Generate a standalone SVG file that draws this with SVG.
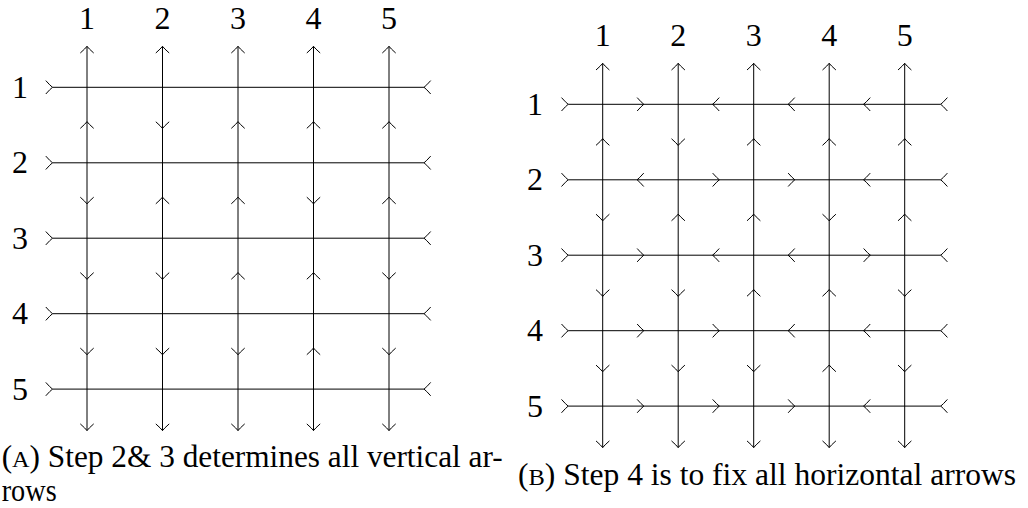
<svg xmlns="http://www.w3.org/2000/svg" width="1028" height="508" viewBox="0 0 1028 508">
<style>
.ln{stroke:#000;stroke-width:1;fill:none}
text{font-family:'Liberation Serif','Times New Roman',serif;fill:#000}
.lbl{font-size:32px;text-anchor:middle}
.cap{font-size:31px}
</style>
<defs>
<path id="a" d="M-6.7,-6.7 Q-2.2,-1.6 0,0 Q-2.2,1.6 -6.7,6.7" fill="none" stroke="#000" stroke-width="1"/>
</defs>
<rect width="1028" height="508" fill="#fff"/>

<g id="gridA-labels">
<text class="lbl" x="87" y="28.5">1</text>
<text class="lbl" x="162.5" y="28.5">2</text>
<text class="lbl" x="238" y="28.5">3</text>
<text class="lbl" x="313.5" y="28.5">4</text>
<text class="lbl" x="389" y="28.5">5</text>
<text class="lbl" x="20" y="97.8">1</text>
<text class="lbl" x="20" y="173.3">2</text>
<text class="lbl" x="20" y="248.7">3</text>
<text class="lbl" x="20" y="324.2">4</text>
<text class="lbl" x="20" y="399.6">5</text>
</g>

<g id="gridA-connectors">
<g class="ln">
<line x1="87" y1="46.3" x2="87" y2="430.6"/>
<line x1="162.5" y1="46.3" x2="162.5" y2="430.6"/>
<line x1="238" y1="46.3" x2="238" y2="430.6"/>
<line x1="313.5" y1="46.3" x2="313.5" y2="430.6"/>
<line x1="389" y1="46.3" x2="389" y2="430.6"/>
<line x1="52.5" y1="87.3" x2="424" y2="87.3"/>
<line x1="52.5" y1="162.8" x2="424" y2="162.8"/>
<line x1="52.5" y1="238.2" x2="424" y2="238.2"/>
<line x1="52.5" y1="313.7" x2="424" y2="313.7"/>
<line x1="52.5" y1="389.1" x2="424" y2="389.1"/>
</g>
<use href="#a" transform="translate(87 46.3) rotate(-90)"/>
<use href="#a" transform="translate(162.5 46.3) rotate(-90)"/>
<use href="#a" transform="translate(238 46.3) rotate(-90)"/>
<use href="#a" transform="translate(313.5 46.3) rotate(-90)"/>
<use href="#a" transform="translate(389 46.3) rotate(-90)"/>
<use href="#a" transform="translate(87 430.6) rotate(90)"/>
<use href="#a" transform="translate(162.5 430.6) rotate(90)"/>
<use href="#a" transform="translate(238 430.6) rotate(90)"/>
<use href="#a" transform="translate(313.5 430.6) rotate(90)"/>
<use href="#a" transform="translate(389 430.6) rotate(90)"/>
<use href="#a" transform="translate(52.5 87.3)"/>
<use href="#a" transform="translate(52.5 162.8)"/>
<use href="#a" transform="translate(52.5 238.2)"/>
<use href="#a" transform="translate(52.5 313.7)"/>
<use href="#a" transform="translate(52.5 389.1)"/>
<use href="#a" transform="translate(424 87.3) rotate(180)"/>
<use href="#a" transform="translate(424 162.8) rotate(180)"/>
<use href="#a" transform="translate(424 238.2) rotate(180)"/>
<use href="#a" transform="translate(424 313.7) rotate(180)"/>
<use href="#a" transform="translate(424 389.1) rotate(180)"/>
<use href="#a" transform="translate(87 121.65) rotate(-90)"/>
<use href="#a" transform="translate(162.5 128.45) rotate(90)"/>
<use href="#a" transform="translate(238 121.65) rotate(-90)"/>
<use href="#a" transform="translate(313.5 121.65) rotate(-90)"/>
<use href="#a" transform="translate(389 121.65) rotate(-90)"/>
<use href="#a" transform="translate(87 203.9) rotate(90)"/>
<use href="#a" transform="translate(162.5 197.1) rotate(-90)"/>
<use href="#a" transform="translate(238 197.1) rotate(-90)"/>
<use href="#a" transform="translate(313.5 203.9) rotate(90)"/>
<use href="#a" transform="translate(389 197.1) rotate(-90)"/>
<use href="#a" transform="translate(87 279.35) rotate(90)"/>
<use href="#a" transform="translate(162.5 279.35) rotate(90)"/>
<use href="#a" transform="translate(238 272.55) rotate(-90)"/>
<use href="#a" transform="translate(313.5 272.55) rotate(-90)"/>
<use href="#a" transform="translate(389 279.35) rotate(90)"/>
<use href="#a" transform="translate(87 354.8) rotate(90)"/>
<use href="#a" transform="translate(162.5 354.8) rotate(90)"/>
<use href="#a" transform="translate(238 354.8) rotate(90)"/>
<use href="#a" transform="translate(313.5 348) rotate(-90)"/>
<use href="#a" transform="translate(389 354.8) rotate(90)"/>
</g>

<g id="gridB-labels">
<text class="lbl" x="602.7" y="45.5">1</text>
<text class="lbl" x="678.2" y="45.5">2</text>
<text class="lbl" x="753.7" y="45.5">3</text>
<text class="lbl" x="829.2" y="45.5">4</text>
<text class="lbl" x="904.7" y="45.5">5</text>
<text class="lbl" x="535" y="114.8">1</text>
<text class="lbl" x="535" y="190.3">2</text>
<text class="lbl" x="535" y="265.7">3</text>
<text class="lbl" x="535" y="341.2">4</text>
<text class="lbl" x="535" y="416.6">5</text>
</g>

<g id="gridB-connectors">
<g class="ln">
<line x1="602.7" y1="63.3" x2="602.7" y2="447.6"/>
<line x1="678.2" y1="63.3" x2="678.2" y2="447.6"/>
<line x1="753.7" y1="63.3" x2="753.7" y2="447.6"/>
<line x1="829.2" y1="63.3" x2="829.2" y2="447.6"/>
<line x1="904.7" y1="63.3" x2="904.7" y2="447.6"/>
<line x1="568.2" y1="104.3" x2="940.7" y2="104.3"/>
<line x1="568.2" y1="179.8" x2="940.7" y2="179.8"/>
<line x1="568.2" y1="255.2" x2="940.7" y2="255.2"/>
<line x1="568.2" y1="330.7" x2="940.7" y2="330.7"/>
<line x1="568.2" y1="406.1" x2="940.7" y2="406.1"/>
</g>
<use href="#a" transform="translate(602.7 63.3) rotate(-90)"/>
<use href="#a" transform="translate(678.2 63.3) rotate(-90)"/>
<use href="#a" transform="translate(753.7 63.3) rotate(-90)"/>
<use href="#a" transform="translate(829.2 63.3) rotate(-90)"/>
<use href="#a" transform="translate(904.7 63.3) rotate(-90)"/>
<use href="#a" transform="translate(602.7 447.6) rotate(90)"/>
<use href="#a" transform="translate(678.2 447.6) rotate(90)"/>
<use href="#a" transform="translate(753.7 447.6) rotate(90)"/>
<use href="#a" transform="translate(829.2 447.6) rotate(90)"/>
<use href="#a" transform="translate(904.7 447.6) rotate(90)"/>
<use href="#a" transform="translate(568.2 104.3)"/>
<use href="#a" transform="translate(568.2 179.8)"/>
<use href="#a" transform="translate(568.2 255.2)"/>
<use href="#a" transform="translate(568.2 330.7)"/>
<use href="#a" transform="translate(568.2 406.1)"/>
<use href="#a" transform="translate(940.7 104.3) rotate(180)"/>
<use href="#a" transform="translate(940.7 179.8) rotate(180)"/>
<use href="#a" transform="translate(940.7 255.2) rotate(180)"/>
<use href="#a" transform="translate(940.7 330.7) rotate(180)"/>
<use href="#a" transform="translate(940.7 406.1) rotate(180)"/>
<use href="#a" transform="translate(602.7 138.65) rotate(-90)"/>
<use href="#a" transform="translate(678.2 145.45) rotate(90)"/>
<use href="#a" transform="translate(753.7 138.65) rotate(-90)"/>
<use href="#a" transform="translate(829.2 138.65) rotate(-90)"/>
<use href="#a" transform="translate(904.7 138.65) rotate(-90)"/>
<use href="#a" transform="translate(602.7 220.9) rotate(90)"/>
<use href="#a" transform="translate(678.2 214.1) rotate(-90)"/>
<use href="#a" transform="translate(753.7 214.1) rotate(-90)"/>
<use href="#a" transform="translate(829.2 220.9) rotate(90)"/>
<use href="#a" transform="translate(904.7 214.1) rotate(-90)"/>
<use href="#a" transform="translate(602.7 296.35) rotate(90)"/>
<use href="#a" transform="translate(678.2 296.35) rotate(90)"/>
<use href="#a" transform="translate(753.7 289.55) rotate(-90)"/>
<use href="#a" transform="translate(829.2 289.55) rotate(-90)"/>
<use href="#a" transform="translate(904.7 296.35) rotate(90)"/>
<use href="#a" transform="translate(602.7 371.8) rotate(90)"/>
<use href="#a" transform="translate(678.2 371.8) rotate(90)"/>
<use href="#a" transform="translate(753.7 371.8) rotate(90)"/>
<use href="#a" transform="translate(829.2 365) rotate(-90)"/>
<use href="#a" transform="translate(904.7 371.8) rotate(90)"/>
<use href="#a" transform="translate(643.85 104.3)"/>
<use href="#a" transform="translate(712.55 104.3) rotate(180)"/>
<use href="#a" transform="translate(788.05 104.3) rotate(180)"/>
<use href="#a" transform="translate(863.55 104.3) rotate(180)"/>
<use href="#a" transform="translate(637.05 179.8) rotate(180)"/>
<use href="#a" transform="translate(719.35 179.8)"/>
<use href="#a" transform="translate(794.85 179.8)"/>
<use href="#a" transform="translate(863.55 179.8) rotate(180)"/>
<use href="#a" transform="translate(643.85 255.2)"/>
<use href="#a" transform="translate(712.55 255.2) rotate(180)"/>
<use href="#a" transform="translate(788.05 255.2) rotate(180)"/>
<use href="#a" transform="translate(870.35 255.2)"/>
<use href="#a" transform="translate(643.85 330.7)"/>
<use href="#a" transform="translate(719.35 330.7)"/>
<use href="#a" transform="translate(788.05 330.7) rotate(180)"/>
<use href="#a" transform="translate(863.55 330.7) rotate(180)"/>
<use href="#a" transform="translate(643.85 406.1)"/>
<use href="#a" transform="translate(719.35 406.1)"/>
<use href="#a" transform="translate(794.85 406.1)"/>
<use href="#a" transform="translate(863.55 406.1) rotate(180)"/>
</g>

<g id="captions">
<text class="cap" x="1.7" y="467" textLength="501" lengthAdjust="spacingAndGlyphs">(<tspan font-size="24">A</tspan>) Step 2&amp; 3 determines all vertical ar-</text>
<text class="cap" x="1.7" y="501" textLength="55" lengthAdjust="spacingAndGlyphs">rows</text>
<text class="cap" x="518" y="485" textLength="498" lengthAdjust="spacingAndGlyphs">(<tspan font-size="24">B</tspan>) Step 4 is to fix all horizontal arrows</text>
</g>
</svg>
